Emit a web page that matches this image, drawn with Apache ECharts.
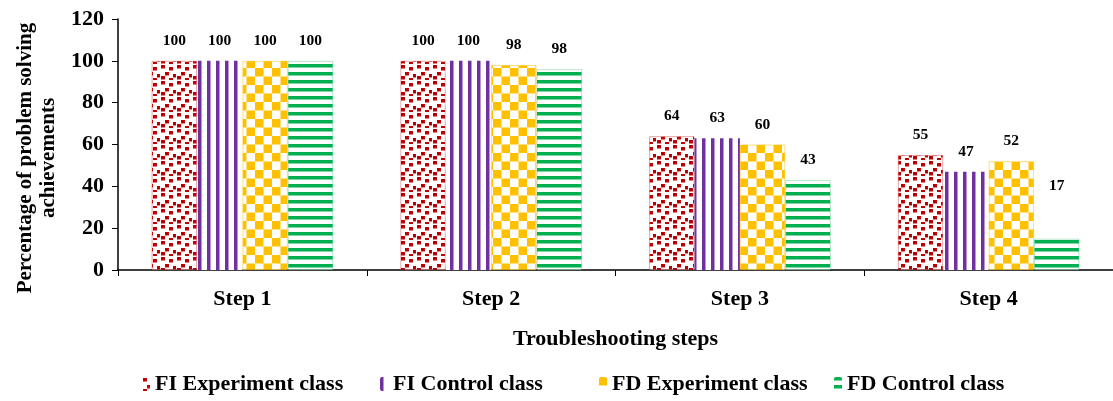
<!DOCTYPE html>
<html><head><meta charset="utf-8">
<script src="https://cdn.jsdelivr.net/npm/echarts@6/dist/echarts.min.js"></script>
<style>html,body{margin:0;padding:0;background:#fff}#c{width:1113px;height:401px}</style>
</head><body><div id="c"></div>
<script>
const categories = ['Step 1', 'Step 2', 'Step 3', 'Step 4'];
const seriesNames = ['FI Experiment class', 'FI Control class', 'FD Experiment class', 'FD Control class'];
const fiExperiment = [100, 100, 64, 55];
const fiControl = [100, 100, 63, 47];
const fdExperiment = [100, 98, 60, 52];
const fdControl = [100, 96, 43, 15];
const fiExperimentLabels = [100, 100, 64, 55];
const fiControlLabels = [100, 100, 63, 47];
const fdExperimentLabels = [100, 98, 60, 52];
const fdControlLabels = [100, 98, 43, 17];
const yTicks = [0, 20, 40, 60, 80, 100, 120];

function tile(w, h, draw) {
  const c = document.createElement('canvas');
  c.width = w; c.height = h;
  const g = c.getContext('2d');
  g.fillStyle = '#fff'; g.fillRect(0, 0, w, h);
  draw(g);
  return { image: c, repeat: 'repeat' };
}
const RED = '#C00000', PURPLE = '#7030A0', GOLD = '#FFC000', GREEN = '#00B050';
const patConfetti = tile(16, 16, g => {
  g.fillStyle = RED;
  [[1,1],[9,3],[5,8],[13,10],[1,12],[9,14]].forEach(p => g.fillRect(p[0], p[1], 4, 3.5));
});
const patVert = tile(9, 9, g => { g.fillStyle = PURPLE; g.fillRect(0, 0, 3.5, 9); });
const patCheck = tile(17, 17, g => { g.fillStyle = GOLD; g.fillRect(0, 0, 8.5, 8.5); g.fillRect(8.5, 8.5, 8.5, 8.5); });
const patHoriz = tile(9, 8.5, g => { g.fillStyle = GREEN; g.fillRect(0, 0, 9, 3.5); });

const values = [fiExperiment, fiControl, fdExperiment, fdControl];
const labels = [fiExperimentLabels, fiControlLabels, fdExperimentLabels, fdControlLabels];
const pats = [patConfetti, patVert, patCheck, patHoriz];
const borders = ['rgba(192,0,0,0.35)', PURPLE, 'rgba(255,192,0,0.5)', 'rgba(0,176,80,0.3)'];
const legendLefts = [137, 375, 594, 829];
const font = 'Liberation Serif';

const series = values.map((vals, s) => ({
  name: seriesNames[s],
  type: 'bar',
  barGap: '0%',
  barCategoryGap: '27%',
  itemStyle: { color: pats[s], borderColor: borders[s], borderWidth: s === 1 ? 0 : 1 },
  label: {
    show: true, position: 'top', distance: 12,
    fontFamily: font, fontWeight: 'bold', fontSize: 15.5, color: '#000',
    formatter: p => String(labels[s][p.dataIndex])
  },
  data: vals.map((v, i) => (s === 3 && i === 3) ? { value: v, label: { offset: [0, -33] } } : v)
}));

const legends = seriesNames.map((n, i) => ({
  data: [{ name: n, itemStyle: { color: pats[i], borderWidth: 0 } }],
  bottom: 1, left: legendLefts[i],
  itemWidth: 8, itemHeight: 14,
  textStyle: { fontFamily: font, fontWeight: 'bold', fontSize: 22, color: '#000' }
}));

const chart = echarts.init(document.getElementById('c'));
chart.setOption({
  animation: false,
  backgroundColor: '#fff',
  grid: { left: 118, top: 19, width: 1000, height: 251, containLabel: false },
  legend: legends,
  xAxis: {
    type: 'category', data: categories,
    name: 'Troubleshooting steps', nameLocation: 'middle', nameGap: 58,
    nameTextStyle: { fontFamily: font, fontWeight: 'bold', fontSize: 22, color: '#000' },
    axisLine: { lineStyle: { color: '#000', width: 1.5 } },
    axisTick: { show: true, length: 6, lineStyle: { color: '#000' } },
    axisLabel: { fontFamily: font, fontWeight: 'bold', fontSize: 22, color: '#000', margin: 18 }
  },
  yAxis: {
    type: 'value', min: 0, max: 120, interval: 20,
    axisLine: { show: true, lineStyle: { color: '#000', width: 1.5 } },
    axisTick: { show: true, length: 6, lineStyle: { color: '#000' } },
    splitLine: { show: false },
    axisLabel: { fontFamily: font, fontWeight: 'bold', fontSize: 22, color: '#000', margin: 14,
      formatter: v => yTicks.includes(v) ? String(v) : '' }
  },
  graphic: [{
    type: 'text', x: 37, y: 158, rotation: Math.PI / 2,
    style: {
      text: 'Percentage of problem solving\nachievements',
      font: 'bold 21px "Liberation Serif"', fill: '#000',
      align: 'center', verticalAlign: 'middle', lineHeight: 23
    }
  }],
  series
});
</script></body></html>
